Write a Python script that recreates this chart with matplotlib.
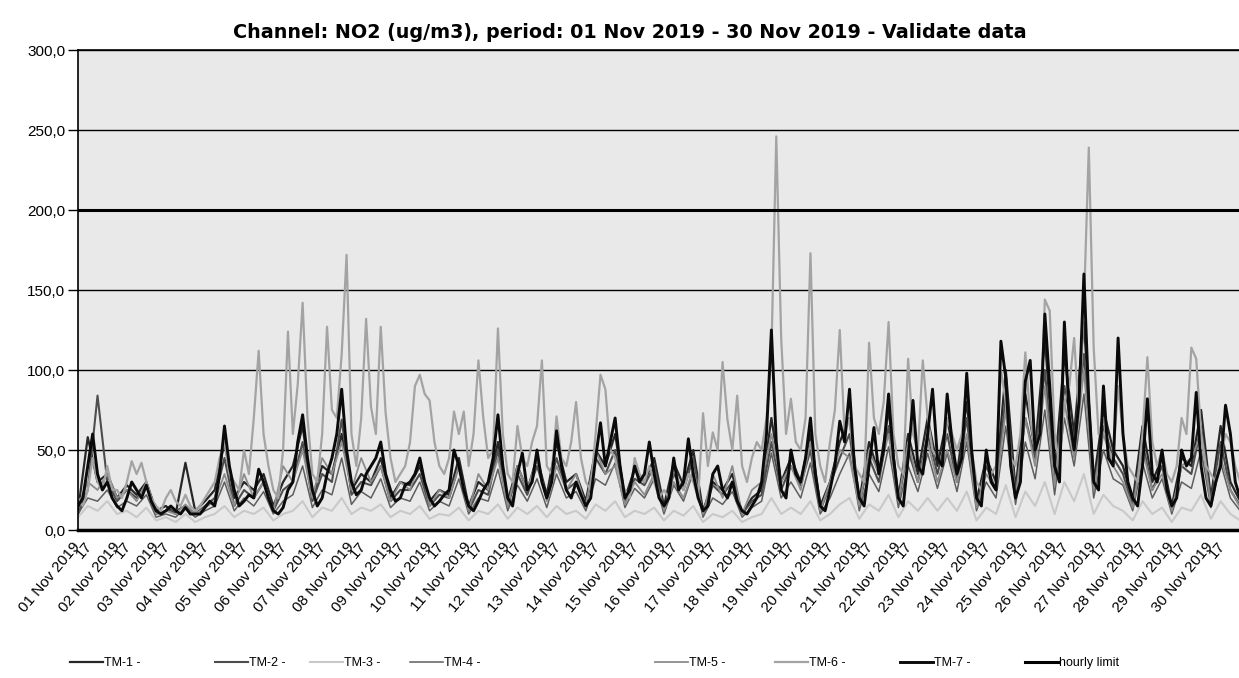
import numpy as np
import matplotlib
matplotlib.use("Agg")
import matplotlib.pyplot as plt

plt.rcParams['font.family'] = ['Liberation Sans', 'DejaVu Sans']

title = "Channel: NO2 (ug/m3), period: 01 Nov 2019 - 30 Nov 2019 - Validate data"
days = [f"{d:02d} Nov 2019" for d in range(1, 31)]
hour_label = "17"
y_ticks = [0, 50, 100, 150, 200, 250, 300]
y_tick_labels = ["0,0", "50,0", "100,0", "150,0", "200,0", "250,0", "300,0"]
HOURLY_LIMIT = 200.0
series_names = ["TM-1 -", "TM-2 -", "TM-3 -", "TM-4 -", "TM-5 -", "TM-6 -", "TM-7 -"]
limit_name = "hourly limit"

# 3-hourly readings (00,03,06,09,12,15,18,21 h), one row per day
tm7 = [
    15, 20, 40, 60, 35, 25, 30, 20,
    15, 12, 20, 30, 25, 20, 28, 18,
    12, 10, 12, 15, 12, 10, 14, 10,
    10, 10, 14, 18, 15, 35, 65, 40,
    25, 15, 18, 22, 20, 38, 30, 20,
    12, 10, 14, 25, 30, 55, 72, 45,
    25, 15, 20, 35, 45, 60, 88, 50,
    30, 22, 25, 35, 40, 45, 55, 35,
    25, 18, 20, 28, 30, 35, 45, 30,
    20, 15, 18, 22, 25, 50, 40, 25,
    15, 12, 18, 25, 30, 45, 72, 40,
    20, 15, 35, 48, 25, 30, 50, 30,
    20, 30, 62, 40, 25, 20, 30, 22,
    15, 20, 45, 67, 40, 55, 70, 40,
    20, 25, 40, 30, 35, 55, 35, 20,
    15, 20, 45, 25, 30, 57, 35, 20,
    12, 15, 35, 40, 25, 20, 30, 18,
    12, 10, 15, 20, 30, 60, 125, 55,
    25, 20, 50, 35, 30, 45, 70, 35,
    15, 12, 25, 40, 68, 55, 88, 40,
    20, 15, 40, 64, 35, 50, 85, 45,
    20, 15, 45, 81, 40, 35, 60, 88,
    45, 40, 85, 55, 35, 45, 98, 50,
    20, 15, 50, 30, 25, 118, 95, 40,
    20, 30, 93, 106, 50, 60, 135, 90,
    40, 30, 130, 70, 50, 80, 160, 80,
    30, 25, 90, 45, 40, 120, 60, 30,
    20, 15, 40, 82, 35, 30, 50, 25,
    15, 20, 50, 40, 45, 86, 40, 20,
    15, 30, 40, 78, 60, 30, 20, 15,
]
tm6 = [
    20, 15, 25, 45, 30, 25, 40, 25,
    25, 20, 30, 43, 35, 42, 30, 20,
    15, 12, 20, 25, 18, 15, 22, 15,
    12, 15, 20, 25, 30, 45, 55, 35,
    30, 25, 50, 35, 70, 112, 60, 40,
    25, 20, 50, 124, 60, 91, 142, 70,
    35, 30, 60, 127, 75, 70, 110, 172,
    60, 40, 70, 132, 77, 60, 127, 73,
    45, 30, 35, 40, 55, 90, 97, 85,
    81, 55, 40, 35, 45, 74, 60, 74,
    40, 60, 106, 70, 45, 50, 126, 60,
    35, 30, 65, 45, 40, 55, 65, 106,
    40, 35, 71, 45, 40, 55, 80, 45,
    30, 25, 60, 97, 88, 50, 45, 30,
    25, 20, 45, 35, 30, 40, 30, 20,
    25, 20, 40, 30, 25, 35, 30, 20,
    73, 40, 61, 50, 105, 69, 50, 84,
    40, 30, 45, 55, 50, 70, 110, 246,
    120, 60, 82, 55, 50, 70, 173, 60,
    40, 30, 55, 75, 125, 60, 70, 40,
    35, 30, 117, 70, 60, 80, 130, 60,
    40, 35, 107, 60, 50, 106, 70, 50,
    45, 40, 70, 60, 50, 60, 96, 50,
    30, 25, 45, 35, 40, 100, 80, 45,
    40, 60, 111, 70, 50, 60, 144, 137,
    60, 40, 80, 90, 120, 70, 140, 239,
    114, 60, 70, 50, 45, 90, 60, 40,
    35, 30, 60, 108, 55, 40, 50, 35,
    30, 40, 70, 60, 114, 107, 60, 40,
    35, 30, 45, 60, 55, 40, 30, 25,
]

# 6-hourly readings (00,06,12,18 h), one row per day
tm1 = [
    12, 58, 30, 35,  20, 28, 22, 30,  12, 15, 10, 42,  12, 18, 25, 55,
    20, 30, 25, 35,  15, 30, 40, 65,  20, 40, 35, 60,  25, 35, 30, 45,
    20, 30, 28, 40,  18, 25, 22, 45,  15, 30, 25, 55,  18, 40, 25, 45,
    22, 55, 30, 35,  18, 50, 40, 60,  20, 38, 30, 45,  15, 42, 28, 50,
    12, 30, 25, 35,  10, 20, 25, 70,  30, 45, 30, 60,  15, 30, 55, 70,
    18, 55, 35, 75,  20, 60, 35, 70,  40, 70, 35, 80,  18, 45, 30, 100,
    25, 85, 50, 120, 35, 110, 60, 130, 30, 75, 50, 40, 18, 65, 30, 45,
    15, 45, 40, 75,  20, 65, 30, 18,
]
tm2 = [
    10, 25, 84, 30,  18, 25, 20, 28,  10, 12, 12, 15,  10, 15, 20, 45,
    15, 25, 20, 30,  12, 25, 30, 55,  18, 35, 30, 69,  22, 30, 28, 40,
    18, 25, 25, 35,  15, 22, 20, 40,  12, 25, 22, 50,  15, 35, 22, 40,
    20, 45, 25, 30,  15, 45, 35, 50,  18, 32, 28, 40,  12, 35, 25, 45,
    10, 28, 22, 30,  10, 18, 22, 55,  25, 40, 28, 50,  12, 28, 45, 60,
    15, 45, 30, 65,  18, 50, 30, 60,  35, 60, 30, 70,  15, 40, 25, 85,
    22, 70, 45, 100, 30, 90, 55, 110, 25, 65, 45, 35,  15, 55, 25, 40,
    12, 40, 35, 65,  18, 55, 25, 15,
]
tm3 = [
    8, 15, 12, 18,  10, 12, 8, 14,  6, 8, 5, 10,  5, 8, 10, 15,
    8, 12, 10, 14,  6, 10, 12, 18,  8, 14, 12, 20,  10, 14, 12, 16,
    8, 12, 10, 15,  7, 10, 9, 14,  6, 12, 10, 16,  7, 14, 10, 15,
    8, 15, 10, 12,  7, 16, 12, 18,  8, 12, 10, 14,  6, 12, 9, 15,
    5, 10, 8, 12,  5, 8, 10, 20,  10, 14, 10, 18,  6, 10, 16, 20,
    7, 16, 12, 22,  8, 18, 12, 20,  12, 20, 12, 24,  6, 14, 10, 28,
    8, 24, 15, 30,  10, 30, 18, 35,  10, 22, 15, 12,  6, 18, 10, 14,
    5, 14, 12, 22,  7, 18, 10, 6,
]
tm4 = [
    10, 20, 18, 25,  14, 18, 15, 22,  8, 10, 8, 14,  8, 12, 15, 30,
    12, 20, 15, 24,  10, 18, 22, 40,  14, 25, 22, 45,  16, 24, 20, 32,
    14, 20, 18, 30,  12, 18, 15, 32,  10, 20, 18, 38,  12, 28, 18, 32,
    14, 35, 20, 24,  12, 32, 28, 42,  14, 26, 20, 32,  10, 28, 18, 36,
    8, 20, 16, 24,  8, 14, 18, 48,  20, 30, 20, 42,  10, 20, 35, 48,
    12, 35, 24, 52,  14, 40, 24, 48,  26, 48, 24, 55,  12, 30, 20, 65,
    16, 55, 32, 75,  22, 70, 40, 85,  20, 50, 32, 28,  12, 42, 20, 32,
    10, 30, 26, 50,  14, 42, 20, 12,
]
tm5 = [
    15, 30, 25, 35,  20, 25, 18, 30,  10, 12, 10, 16,  10, 14, 18, 35,
    15, 35, 20, 30,  12, 40, 30, 50,  20, 45, 35, 55,  25, 45, 30, 40,
    18, 30, 25, 45,  15, 25, 20, 40,  12, 35, 25, 45,  15, 40, 25, 45,
    18, 40, 25, 35,  15, 50, 35, 40,  16, 30, 22, 35,  12, 30, 20, 38,
    10, 35, 20, 40,  10, 25, 30, 60,  30, 40, 25, 55,  12, 30, 50, 45,
    15, 50, 35, 60,  18, 55, 30, 55,  30, 50, 30, 60,  14, 35, 25, 75,
    20, 70, 40, 90,  28, 80, 45, 100, 25, 60, 40, 30,  14, 50, 25, 35,
    12, 40, 45, 60,  16, 45, 25, 14,
]

W, H = 1239, 678
fig = plt.figure(figsize=(W / 100, H / 100), dpi=100)
ax_left, ax_top, ax_bottom = 78, 50, 530
ax = fig.add_axes([ax_left / W, 1 - ax_bottom / H, (W - ax_left) / W, (ax_bottom - ax_top) / H])
ax.set_facecolor('#e9e9e9')

t3 = np.arange(len(tm7)) * 3 / 24.0
t6 = np.arange(len(tm1)) * 6 / 24.0

styles = [
    (tm1, t6, '#262626', 1.6),
    (tm2, t6, '#4d4d4d', 1.5),
    (tm3, t6, '#c9c9c9', 1.5),
    (tm4, t6, '#5e5e5e', 1.1),
    (tm5, t6, '#8c8c8c', 1.3),
    (tm6, t3, '#a3a3a3', 1.6),
    (tm7, t3, '#0a0a0a', 2.1),
]
handles = []
for (vals, tt, col, lw), name in zip(styles, series_names):
    ln, = ax.plot(tt, vals, color=col, lw=lw, label=name, solid_joinstyle='round')
    handles.append(ln)

lim = ax.axhline(HOURLY_LIMIT, color='black', lw=2.2, label=limit_name, zorder=5)
handles.append(lim)

ax.set_xlim(0, 29.72)
ax.set_ylim(0, 300)
ax.set_yticks(y_ticks)
ax.set_yticklabels(y_tick_labels, fontsize=11)
ax.yaxis.grid(True, color='black', lw=1.0)
ax.set_axisbelow(True)

# label positions as drawn in the reference (the "17" sits just past each date label)
ax.set_xticks(np.arange(len(days)))
ax.set_xticklabels(days, rotation=50, ha='right', va='center', rotation_mode='anchor', fontsize=11)
ax.set_xticks(np.arange(len(days)) + 0.3, minor=True)
ax.set_xticklabels([hour_label] * len(days), minor=True, rotation=50, ha='right', va='center',
                   rotation_mode='anchor', fontsize=11)
ax.tick_params(axis='x', which='both', length=0, pad=10)
ax.tick_params(axis='y', length=7, width=1, pad=2)

ax.spines['right'].set_visible(False)
ax.spines['bottom'].set_linewidth(2.5)
ax.spines['left'].set_linewidth(1.2)
ax.spines['top'].set_linewidth(1.2)

fig.text(630 / W, 1 - 33 / H, title, ha='center', va='center', fontsize=13.8,
         fontweight='bold', family=['DejaVu Sans'])

leg_x = [70, 215, 310, 410, 655, 775, 900, 1025]
for h, xpx in zip(handles, leg_x):
    fig.legend(handles=[h], labels=[h.get_label()], loc='center left',
               bbox_to_anchor=(xpx / W, 1 - 663 / H), frameon=False, fontsize=9,
               handlelength=2.6, handletextpad=0.1, borderpad=0, borderaxespad=0)

fig.savefig('out.png', dpi=100)
